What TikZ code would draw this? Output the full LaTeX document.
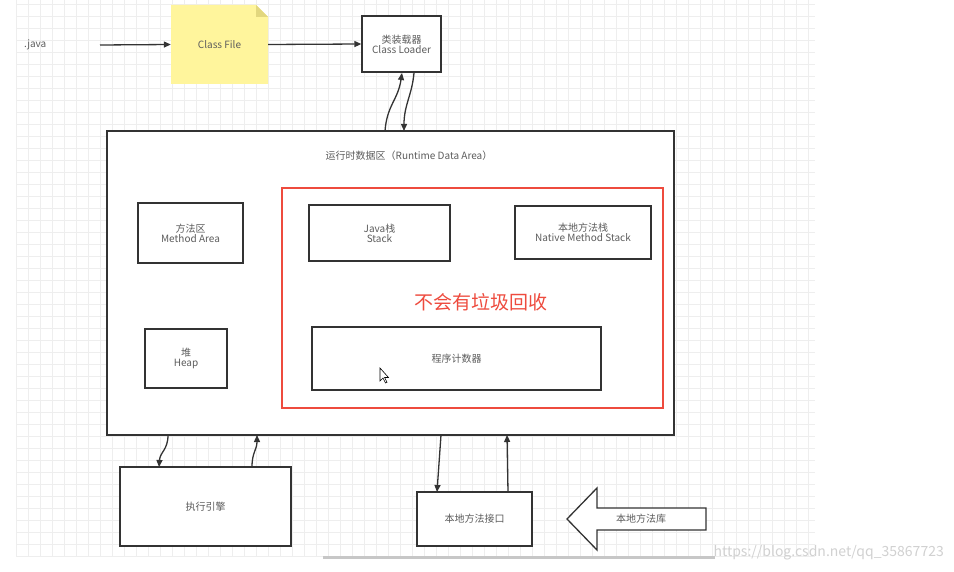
\documentclass[tikz,border=0pt]{standalone}
\usepackage{fontspec}
\setmainfont{Noto Sans CJK SC}
\usetikzlibrary{arrows.meta}
\definecolor{ink}{HTML}{333333}
\definecolor{note}{HTML}{FFF59C}
\definecolor{fold}{HTML}{E2D77E}
\definecolor{redc}{HTML}{EE4B3E}
\definecolor{gridc}{HTML}{EEEEEE}
\tikzset{
  box/.style={draw=ink, line width=1.3pt, fill=white, inner sep=0pt, align=center, font=\fontsize{10}{12}\selectfont, text=ink!80},
  conn/.style={draw=ink, line width=1.3pt, -{Triangle[length=7pt,width=6pt]}},
  lbl/.style={font=\fontsize{10}{12}\selectfont, text=ink!80, inner sep=0pt}
}
\begin{document}
\begin{tikzpicture}[x=1pt,y=-1pt]
\useasboundingbox (0,0) rectangle (954,572);
\fill[white] (0,0) rectangle (954,572);
% grid
\foreach \gx in {16,28,...,815} \draw[gridc, line width=0.5pt] (\gx,0) -- (\gx,556);
\foreach \gy in {4,16,...,556} \draw[gridc, line width=0.5pt] (16,\gy) -- (815,\gy);
% top row
\node[lbl, anchor=west] (java) at (24,45) {.java};
\coordinate (javaEnd) at (100,45);
\fill[note] (171,5) -- (256,5) -- (268,17) -- (268,84) -- (171,84) -- cycle;
\fill[fold] (256,5) -- (268,17) -- (256,17) -- cycle;
\node[lbl, minimum width=97pt, minimum height=79pt] (cf) at (219.5,44.5) {Class File};
\node[box, minimum width=79pt, minimum height=56pt] (cl) at (401.5,44) {类装载器\\[-2pt]Class Loader};
\draw[conn] (javaEnd) -- (cf.west);
\draw[conn] (cf.east) -- (cl.west);
% runtime area
\node[box, minimum width=567pt, minimum height=304pt] (rt) at (390.5,283) {};
\node[lbl] (rtt) at (409,156) {运行时数据区（Runtime Data Area）};
\node[draw=redc, line width=1.3pt, minimum width=381pt, minimum height=220pt, inner sep=0pt] (red) at (472.5,298) {};
\node[box, minimum width=105pt, minimum height=60pt] (ma) at (190.5,233) {方法区\\[-2pt]Method Area};
\node[box, minimum width=82pt, minimum height=59pt] (heap) at (186,358.5) {堆\\[-2pt]Heap};
\node[box, minimum width=141pt, minimum height=56pt] (js) at (379.5,233) {Java栈\\[-2pt]Stack};
\node[box, minimum width=136pt, minimum height=53pt] (ns) at (583,232.5) {本地方法栈\\[-2pt]Native Method Stack};
\node[box, minimum width=289pt, minimum height=63pt] (pc) at (456.5,358.5) {程序计数器};
\node[text=redc, font=\fontsize{19}{22}\selectfont, inner sep=0pt] (nogc) at (481,302) {不会有垃圾回收};
% cursor
\draw[black, line width=0.6pt, fill=white] (380,368) -- (380,381) -- (383,378) -- (385.5,383) -- (387,382.3) -- (384.6,377.5) -- (388.5,377.5) -- cycle;
% loader <-> runtime
\draw[conn] (385,131) .. controls (387,105) and (398,100) .. (402,73);
\draw[conn] (414,73) .. controls (412,95) and (404,105) .. (404,131);
% bottom
\node[box, minimum width=171pt, minimum height=79pt] (ee) at (205.5,506.5) {执行引擎};
\node[box, minimum width=115pt, minimum height=54pt] (ni) at (474.5,519) {本地方法接口};
\draw[conn] (168,435) .. controls (168,450) and (160,452) .. (159,467);
\draw[conn] (252,467) .. controls (252,452) and (257,450) .. (257,435);
\draw[conn] (441,435) -- (437,492);
\draw[conn] (508,492) -- (507,435);
% big arrow
\draw[draw=ink, line width=1.3pt, fill=white] (567,519) -- (597,488) -- (597,508) -- (706,508) -- (706,530) -- (597,530) -- (597,550) -- cycle;
\node[lbl] (lib) at (641,519) {本地方法库};
% scrollbar
\fill[black!22] (323,555.5) rectangle (715,559);
% watermark
\node[text=black!18, font=\fontsize{14}{16}\selectfont, inner sep=0pt, anchor=east] (wm) at (944,553) {https://blog.csdn.net/qq\_35867723};
\end{tikzpicture}
\end{document}
